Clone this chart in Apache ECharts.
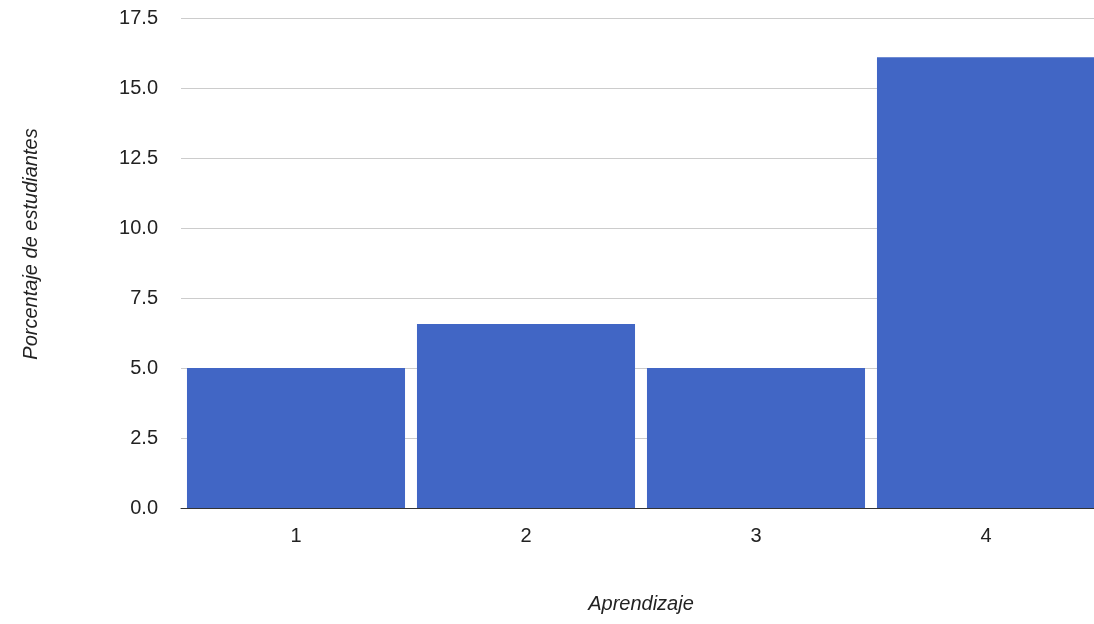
<!DOCTYPE html>
<html>
<head>
<meta charset="utf-8">
<script src="https://cdn.jsdelivr.net/npm/echarts@6/dist/echarts.min.js"></script>
<style>html,body{margin:0;padding:0;background:#fff;overflow:hidden}#c{width:1101px;height:624px}</style>
</head>
<body>
<div id="c"></div>
<script>
const categories = ['1', '2', '3', '4'];
const values = [5.0, 6.57, 5.0, 16.1];
const yTicks = [0, 2.5, 5, 7.5, 10, 12.5, 15, 17.5];

const chart = echarts.init(document.getElementById('c'), null, {renderer: 'canvas'});
const font = '"Liberation Sans", Arial, sans-serif';
chart.setOption({
  animation: false,
  grid: {left: 181, right: 0, top: 18, bottom: 116, containLabel: false, outerBoundsMode: 'none'},
  xAxis: {
    type: 'category',
    data: categories,
    name: 'Aprendizaje',
    nameLocation: 'middle',
    nameGap: 86,
    nameTextStyle: {fontFamily: font, fontSize: 20, fontStyle: 'italic', color: '#222'},
    axisLine: {lineStyle: {color: '#333', width: 1}},
    axisTick: {show: false},
    axisLabel: {fontFamily: font, fontSize: 20, color: '#222', margin: 18}
  },
  yAxis: {
    type: 'value',
    min: 0, max: 17.5, interval: 2.5,
    name: 'Porcentaje de estudiantes',
    nameLocation: 'middle',
    nameGap: 140,
    nameTextStyle: {fontFamily: font, fontSize: 20, fontStyle: 'italic', color: '#222', padding: [0, 0, 0, 38]},
    axisLine: {show: false},
    axisTick: {show: false},
    splitLine: {lineStyle: {color: '#cccccc', width: 1}},
    axisLabel: {fontFamily: font, fontSize: 20, color: '#222', margin: 23,
      formatter: v => v.toFixed(1)}
  },
  series: [{
    type: 'bar',
    data: values,
    barCategoryGap: '5.2%',
    itemStyle: {color: '#4166C5'}
  }]
});
</script>
</body>
</html>
